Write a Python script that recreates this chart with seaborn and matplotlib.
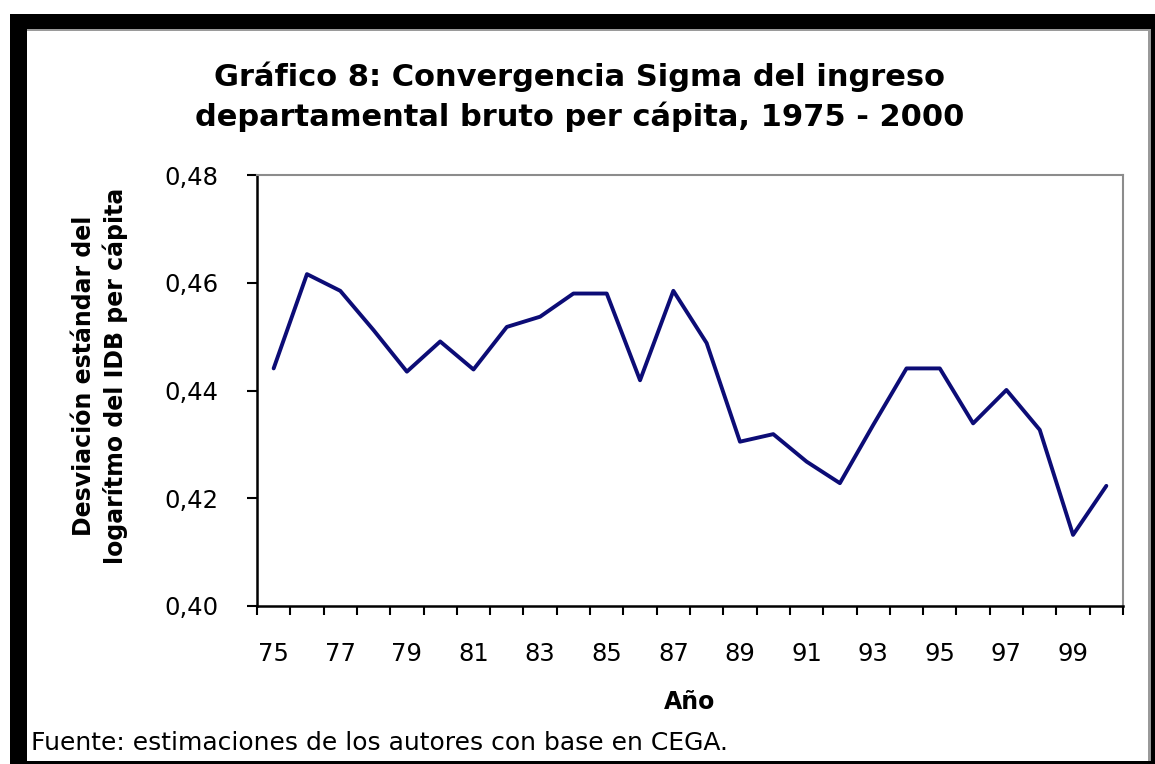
import matplotlib
matplotlib.use("Agg")
import matplotlib.pyplot as plt
import seaborn as sns
import pandas as pd
from matplotlib.patches import Rectangle
from matplotlib.ticker import FixedLocator, FixedFormatter

# Datos
years = list(range(1975, 2001))
sigma = [0.4441, 0.4616, 0.4585, 0.4512, 0.4435, 0.4491, 0.4439, 0.4518,
         0.4537, 0.4580, 0.4580, 0.4419, 0.4585, 0.4488, 0.4305, 0.4319,
         0.4268, 0.4228, 0.4336, 0.4441, 0.4441, 0.4339, 0.4401, 0.4327,
         0.4132, 0.4223]
tick_years = list(range(1975, 2000, 2))
tick_labels = [f"{y % 100:02d}" for y in tick_years]
y_ticks = [0.40, 0.42, 0.44, 0.46, 0.48]
y_labels = ["0,40", "0,42", "0,44", "0,46", "0,48"]

df = pd.DataFrame({"Año": years, "sigma": sigma})

sns.set_theme(style="white")
plt.rcParams["font.family"] = ["DejaVu Sans"]
plt.rcParams["text.color"] = "black"
plt.rcParams["axes.labelcolor"] = "black"
plt.rcParams["xtick.color"] = "black"
plt.rcParams["ytick.color"] = "black"

W, H = 1155, 764
fig = plt.figure(figsize=(W / 100, H / 100), dpi=100)
fig.patch.set_facecolor("white")

# marco negro alrededor del grafico
def px_rect(x0, y0, x1, y1, color):
    fig.patches.append(Rectangle((x0 / W, 1 - y1 / H), (x1 - x0) / W, (y1 - y0) / H,
                                 transform=fig.transFigure, facecolor=color,
                                 edgecolor="none", zorder=-5))

px_rect(10, 14, 1155, 764, "black")
px_rect(27, 29, 1151, 761, "white")
px_rect(1148, 29, 1151, 761, "#9a9a9a")
px_rect(27, 29, 1151, 31, "#9a9a9a")

ax = fig.add_axes([257 / W, 1 - 606 / H, (1123 - 257) / W, (606 - 175) / H])
ax.set_facecolor("white")

sns.lineplot(data=df, x="Año", y="sigma", ax=ax, color="#0c0c76", linewidth=2.8)

ax.set_xlim(1974.5, 2000.5)
ax.set_ylim(0.40, 0.48)

# marcas entre categorias, etiquetas en el centro
ax.xaxis.set_major_locator(FixedLocator([y - 0.5 for y in years] + [2000.5]))
ax.xaxis.set_major_formatter(FixedFormatter([""] * 27))
ax.xaxis.set_minor_locator(FixedLocator(tick_years))
ax.xaxis.set_minor_formatter(FixedFormatter(tick_labels))
ax.tick_params(axis="x", which="major", direction="out", length=6.5, width=1.5,
               color="black", bottom=True)
ax.tick_params(axis="x", which="minor", length=0, pad=26, labelsize=17.5,
               bottom=True)

ax.set_yticks(y_ticks)
ax.set_yticklabels(y_labels)
ax.tick_params(axis="y", direction="out", length=7, width=1.5, color="black",
               left=True, labelsize=17.5, pad=21)

for side in ["left", "bottom"]:
    ax.spines[side].set_color("black")
    ax.spines[side].set_linewidth(1.8)
for side in ["top", "right"]:
    ax.spines[side].set_color("#8c8c8c")
    ax.spines[side].set_linewidth(1.5)

ax.set_xlabel("Año", fontsize=17, fontweight="bold", labelpad=17)
ax.set_ylabel("Desviación estándar del\nlogarítmo del IDB per cápita",
              fontsize=17, fontweight="bold", labelpad=26, linespacing=1.3)
ax.yaxis.label.set_y(0.534)

fig.text(580 / W, 1 - 97 / H,
         "Gráfico 8: Convergencia Sigma del ingreso\ndepartamental bruto per cápita, 1975 - 2000",
         ha="center", va="center", fontsize=22, fontweight="bold", linespacing=1.4)

fig.text(31 / W, 1 - 743 / H, "Fuente: estimaciones de los autores con base en CEGA.",
         ha="left", va="center", fontsize=18)

fig.savefig("out.png", dpi=100)
